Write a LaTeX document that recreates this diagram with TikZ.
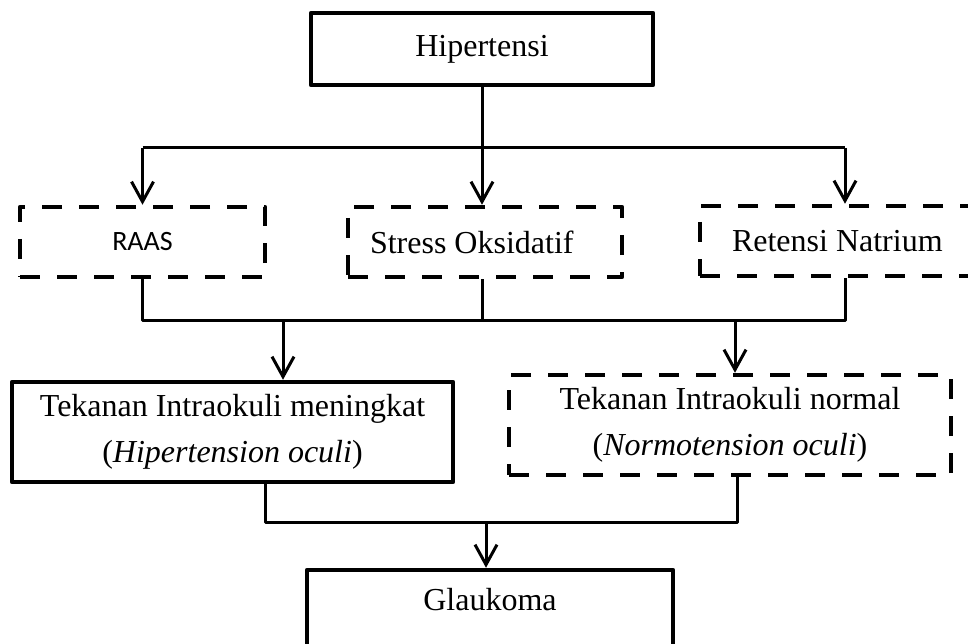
\documentclass[tikz,border=0pt]{standalone}
\usepackage{fontspec}
\setmainfont{Liberation Serif}
\newfontfamily\raasfont{Carlito}
\usetikzlibrary{arrows.meta}

\begin{document}
\begin{tikzpicture}[
  x=1pt, y=-1pt,
  line join=round,
  every node/.style={font=\fontsize{32}{46}\selectfont, align=center, inner sep=0pt},
  plainbox/.style={draw, line width=4.5pt},
  dashbox/.style={draw, line width=4.5pt, dash pattern=on 20pt off 17pt},
  link/.style={line width=3pt},
  flow/.style={link, -{Straight Barb[length=20pt,width=22pt]}}
]

\useasboundingbox (0,0) rectangle (968,644);
\clip (0,0) rectangle (968,644);

% ------------------------------------------------------------------
% Boxes
% ------------------------------------------------------------------
\node[plainbox, minimum width=342pt, minimum height=72pt] (hiper) at (482,49) {Hipertensi};

\node[dashbox, minimum width=245pt, minimum height=70pt,
      font=\raasfont\fontsize{28}{34}\selectfont] (raas) at (142.5,242) {RAAS};
\node[dashbox, minimum height=70pt, text width=230pt, align=flush left,
      inner xsep=22pt] (stress) at (485,242) {Stress Oksidatif};
\node[dashbox, minimum height=70pt, text width=226pt, align=flush left,
      inner xsep=32pt] (retensi) at (845,241) {Retensi Natrium};

\node[plainbox, minimum width=441pt, minimum height=100pt] (naik) at (232.5,432)
  {Tekanan Intraokuli meningkat\\(\textit{Hipertension oculi})};
\node[dashbox, minimum width=442pt, minimum height=100pt] (normal) at (730,425)
  {Tekanan Intraokuli normal\\(\textit{Normotension oculi})};

\node[plainbox, minimum width=366pt, minimum height=104pt] (glaukoma) at (490,622)
  {Glaukoma\\\mbox{}};

% ------------------------------------------------------------------
% Connectors
% ------------------------------------------------------------------
\coordinate (split) at (0,148);
\coordinate (merge) at (0,320);
\coordinate (join) at (0,522);
\coordinate (toNaik) at (283,0);
\coordinate (toNormal) at (735,0);
\coordinate (fromNaik) at (265,0);
\coordinate (fromNormal) at (737,0);
\coordinate (toGlaukoma) at (486,0);

\draw[link] (raas.north |- split) -- (retensi.north |- split);
\draw[flow] (hiper.south) -- (hiper.south |- stress.north);
\draw[flow] (raas.north |- split) -- (raas.north);
\draw[flow] (retensi.north |- split) -- (retensi.north);

\draw[link] (raas.south) -- (raas.south |- merge) -- (retensi.south |- merge) -- (retensi.south);
\draw[link] (hiper.south |- stress.south) -- (hiper.south |- merge);
\draw[flow] (toNaik |- merge) -- (toNaik |- naik.north);
\draw[flow] (toNormal |- merge) -- (toNormal |- normal.north);

\draw[link] (fromNaik |- naik.south) -- (fromNaik |- join) -- (fromNormal |- join) -- (fromNormal |- normal.south);
\draw[flow] (toGlaukoma |- join) -- (toGlaukoma |- glaukoma.north);

\end{tikzpicture}
\end{document}
